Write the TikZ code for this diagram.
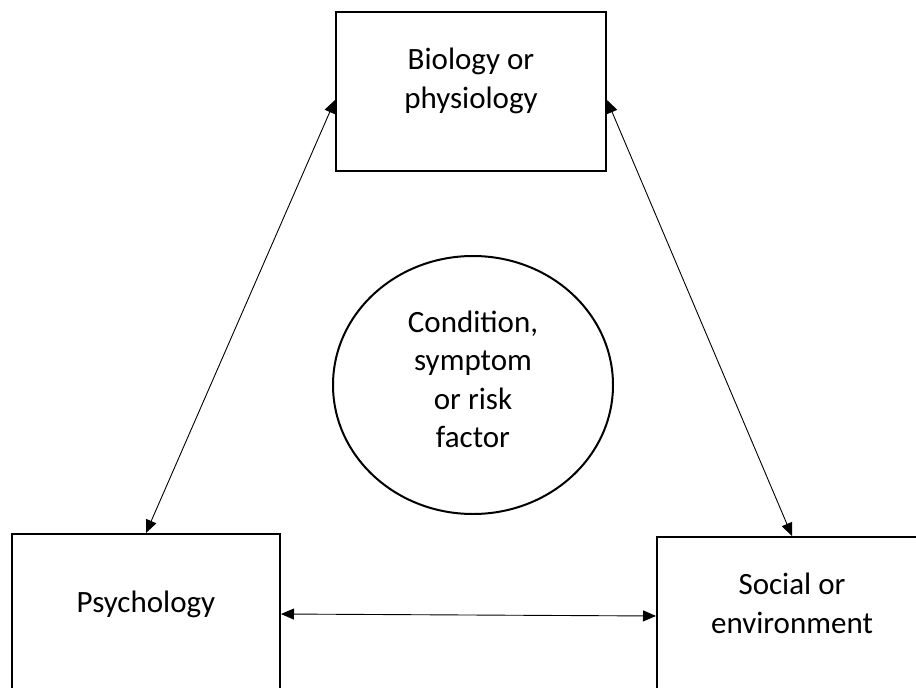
\documentclass[tikz,border=0pt]{standalone}
\usepackage{fontspec}
\setmainfont{Carlito}
\usetikzlibrary{arrows.meta,calc,shapes.geometric}

\tikzset{
  factorbox/.style={draw=black, line width=2pt, rectangle, inner sep=0pt},
  hubshape/.style={draw=black, line width=2pt, ellipse, inner sep=0pt,
    minimum width=280pt, minimum height=258pt},
  % multi-line labels are placed by the baseline of their last line
  boxtext/.style={anchor=base, align=center, inner sep=0pt,
    font=\fontsize{31}{38.5}\selectfont},
  link/.style={line width=0.9pt, {Triangle[length=13pt,width=11pt]}-{Triangle[length=13pt,width=11pt]}}
}

\begin{document}
\begin{tikzpicture}[x=1pt, y=-1pt]
  \useasboundingbox (0,0) rectangle (916,688);
  \fill[white] (0,0) rectangle (916,688);
  \clip (0,0) rectangle (916,688);

  % the three factor boxes
  \node[factorbox, minimum width=270pt, minimum height=159pt] (bio) at (471,91.5) {};
  \node[factorbox, minimum width=268pt, minimum height=180pt] (psy) at (146,624) {};
  \node[factorbox, minimum width=270pt, minimum height=180pt] (soc) at (792,627) {};

  % central condition
  \node[hubshape] (hub) at (473,385) {};

  % texts
  \node[boxtext] (biotext) at (471,108) {Biology or\\physiology};
  \node[boxtext] (psytext) at (146,612) {Psychology};
  \node[boxtext] (soctext) at (792,633) {Social or\\environment};
  \node[boxtext] (hubtext) at (473,447.5) {Condition,\\symptom\\or risk\\factor};

  % two-way links between the factors
  \draw[link] ($(bio.north west)!0.553!(bio.south west)$) -- (psy.north);
  \draw[link] ($(bio.north east)!0.553!(bio.south east)$) -- (soc.north);
  \draw[link] ($(psy.north east)+(0,81)$) -- ($(soc.north west)+(0,80)$);
\end{tikzpicture}
\end{document}
